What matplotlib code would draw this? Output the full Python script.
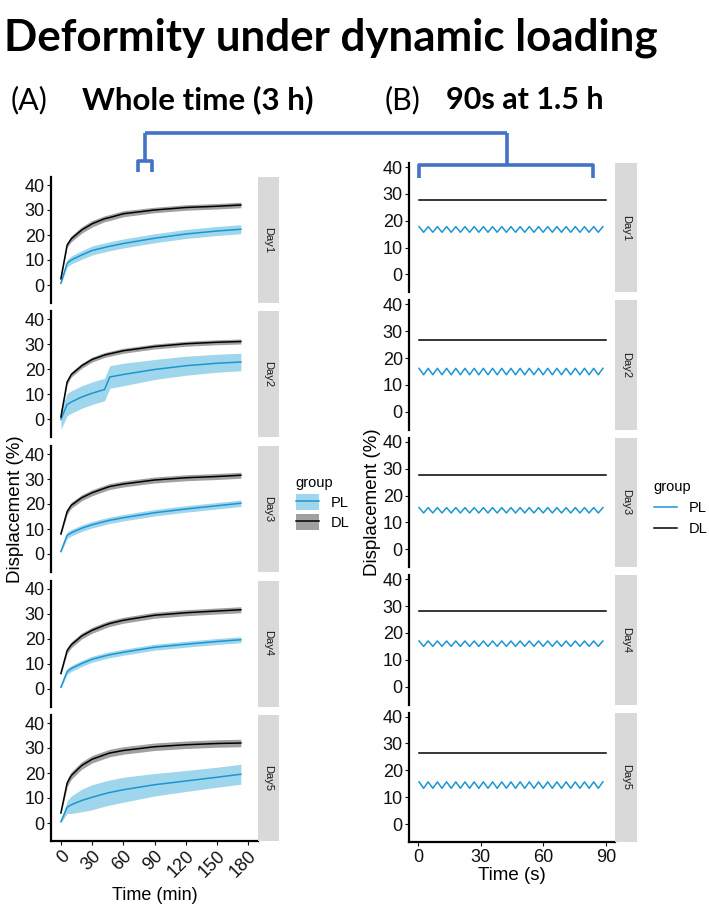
import numpy as np
import matplotlib.pyplot as plt
from matplotlib.lines import Line2D
from matplotlib.patches import Patch

plt.rcParams['font.family'] = ['Liberation Sans', 'DejaVu Sans']

# ------------- data -----------------

days = ["Day1", "Day2", "Day3", "Day4", "Day5"]

# (A) whole time, minutes
t_min = [0, 6, 10, 20, 30, 42, 47, 60, 90, 120, 150, 173]

dl_mean = [
    [2.5, 16, 18.5, 22, 24.5, 26.5, 27, 28.5, 30, 31, 31.5, 32],
    [1, 15, 18, 21.5, 24, 25.8, 26.3, 27.5, 29.2, 30.3, 30.9, 31.2],
    [8, 17, 19.5, 22.5, 24.5, 26.3, 27, 28, 29.6, 30.5, 31, 31.5],
    [6, 15.2, 17.5, 21, 23.3, 25.3, 26, 27.3, 29.3, 30.3, 31, 31.5],
    [4, 16, 19, 23, 25.5, 27.3, 28, 29, 30.5, 31.3, 31.8, 32],
]
dl_sd = [
    [0.5, 1, 1.2, 1.3, 1.3, 1.2, 1.2, 1.2, 1.1, 1.1, 1.1, 1.1],
    [0.5, 1, 1, 1, 1, 1, 1, 1, 1, 1, 1, 1],
    [0.5, 1.2, 1.2, 1.2, 1.2, 1.2, 1.2, 1.2, 1.2, 1.2, 1.2, 1.2],
    [0.5, 1.2, 1.2, 1.2, 1.2, 1.2, 1.2, 1.2, 1.2, 1.2, 1.2, 1.2],
    [0.5, 1.5, 1.5, 1.5, 1.5, 1.5, 1.5, 1.5, 1.5, 1.5, 1.5, 1.5],
]
pl_mean = [
    [0.7, 8.7, 10, 12, 13.8, 15, 15.5, 16.6, 18.7, 20.4, 21.6, 22.3],
    [0, 6, 7, 9, 10.5, 12, 17, 18, 20, 21.5, 22.5, 23],
    [1, 7.5, 8.5, 10.3, 11.7, 13, 13.5, 14.5, 16.5, 18, 19.3, 20.3],
    [0.5, 6.8, 8, 10, 11.7, 13, 13.5, 14.5, 16.5, 17.7, 18.8, 19.5],
    [0.5, 6.3, 7.3, 9, 10.3, 11.7, 12.2, 13.3, 15.3, 16.8, 18.3, 19.5],
]
pl_sd = [
    [0.5, 1.5, 1.6, 1.7, 1.8, 1.8, 1.8, 1.8, 1.8, 1.8, 1.8, 1.8],
    [4, 4.5, 4.5, 4.5, 4.5, 4.5, 4.5, 4.5, 4, 3.8, 3.6, 3.5],
    [0.5, 1.3, 1.3, 1.3, 1.3, 1.3, 1.3, 1.3, 1.3, 1.3, 1.3, 1.3],
    [0.5, 1.2, 1.2, 1.2, 1.2, 1.2, 1.2, 1.2, 1.2, 1.2, 1.2, 1.2],
    [0.5, 2.5, 3.5, 4.5, 5, 5, 5, 5, 4.5, 4.2, 4, 4],
]

# (B) 90 s window at 1.5 h
t_sec_dl = [0.5, 30, 60, 90]
dl_level = [27.7, 26.9, 27.5, 28.0, 26.5]
# PL oscillation: alternating peak / trough times (s)
t_sec_pl = [0.5, 2.7, 4.9, 7.1, 9.3, 11.5, 13.7, 15.9, 18.1, 20.3,
            22.5, 24.7, 26.9, 29.1, 31.3, 33.5, 35.7, 37.9, 40.1, 42.3,
            44.5, 46.7, 48.9, 51.1, 53.3, 55.5, 57.7, 59.9, 62.1, 64.3,
            66.5, 68.7, 70.9, 73.1, 75.3, 77.5, 79.7, 81.9, 84.1, 86.3, 88.5]
pl_peak = [17.8, 16.2, 15.5, 17.0, 15.7]
pl_trough = [15.7, 13.8, 13.5, 15.0, 13.3]

yticks = [0, 10, 20, 30, 40]

PL_LINE = "#1B96D2"
PL_FILL = "#9FD6EC"
DL_LINE = "#000000"
DL_FILL = "#A0A0A0"
STRIP = "#D9D9D9"
BRACKET = "#4472C4"

# ------------- layout helpers -----------------

W, H = 709, 906
fig = plt.figure(figsize=(W / 100, H / 100), dpi=100)


def px_axes(x, y, w, h):
    return fig.add_axes([x / W, 1 - (y + h) / H, w / W, h / H])


def style_panel(ax, ylim, bottom):
    ax.set_ylim(*ylim)
    ax.set_yticks(yticks)
    for s in ["top", "right"]:
        ax.spines[s].set_visible(False)
    ax.spines["left"].set_linewidth(1.6)
    ax.spines["bottom"].set_linewidth(1.6)
    ax.spines["bottom"].set_visible(bottom)
    ax.tick_params(axis="y", labelsize=13, length=3, width=0.8, pad=1.5, colors="#111111")
    ax.tick_params(axis="x", labelsize=13, length=3, width=0.8, pad=2, colors="#111111")
    if not bottom:
        ax.tick_params(axis="x", bottom=False, labelbottom=False)


def strip(x, y, w, h, label):
    s = px_axes(x, y, w, h)
    s.set_facecolor(STRIP)
    s.set_xticks([]); s.set_yticks([])
    for sp in s.spines.values():
        sp.set_visible(False)
    s.text(0.5, 0.5, label, rotation=-90, ha="center", va="center",
           fontsize=8, color="#1A1A1A", transform=s.transAxes)


# ------------- (A) whole time -----------------

a_left, a_w, a_strip = 51, 207, 21
a_top, a_h, a_step = 177, 126, 134.5
tt = np.array(t_min)
for i, day in enumerate(days):
    y0 = a_top + i * a_step
    ax = px_axes(a_left, y0, a_w, a_h)
    dm, ds = np.array(dl_mean[i]), np.array(dl_sd[i])
    pm, ps = np.array(pl_mean[i]), np.array(pl_sd[i])
    ax.fill_between(tt, pm - ps, pm + ps, color=PL_FILL, lw=0)
    ax.fill_between(tt, dm - ds, dm + ds, color=DL_FILL, lw=0)
    ax.plot(tt, pm, color=PL_LINE, lw=1.1)
    ax.plot(tt, dm, color=DL_LINE, lw=1.1)
    ax.set_xlim(-9.5, 189.5)
    ax.set_xticks([0, 30, 60, 90, 120, 150, 180])
    style_panel(ax, (-7.2, 43.2), bottom=(i == len(days) - 1))
    strip(a_left + a_w, y0, a_strip, a_h, day)
    if i == len(days) - 1:
        for lab in ax.get_xticklabels():
            lab.set_rotation(45)
            lab.set_ha("right")
            lab.set_va("top")
            lab.set_rotation_mode("anchor")
        ax.set_xlabel("Time (min)", fontsize=13, labelpad=4)

fig.text(16 / W, 1 - 509 / H, "Displacement (%)", rotation=90,
         ha="center", va="center", fontsize=13.5)

# ------------- (B) 90 s -----------------

b_left, b_w, b_strip = 409, 206, 22
b_top, b_h, b_step = 163, 129.4, 137.4
for i, day in enumerate(days):
    y0 = b_top + i * b_step
    ax = px_axes(b_left, y0, b_w, b_h)
    pl_vals = [pl_peak[i] if k % 2 == 0 else pl_trough[i] for k in range(len(t_sec_pl))]
    ax.plot(t_sec_pl, pl_vals, color=PL_LINE, lw=1.1)
    ax.plot(t_sec_dl, [dl_level[i]] * len(t_sec_dl), color=DL_LINE, lw=1.1)
    ax.set_xlim(-4.3, 94.3)
    ax.set_xticks([0, 30, 60, 90])
    style_panel(ax, (-6.7, 41.5), bottom=(i == len(days) - 1))
    strip(b_left + b_w, y0, b_strip, b_h, day)
    if i == len(days) - 1:
        ax.set_xlabel("Time (s)", fontsize=13.5, labelpad=1)

fig.text(373 / W, 1 - 502 / H, "Displacement (%)", rotation=90,
         ha="center", va="center", fontsize=13.5)

# ------------- legends -----------------

h_pl = (Patch(facecolor=PL_FILL, edgecolor="none"), Line2D([], [], color=PL_LINE, lw=1.1))
h_dl = (Patch(facecolor=DL_FILL, edgecolor="none"), Line2D([], [], color=DL_LINE, lw=1.1))
fig.legend([h_pl, h_dl], ["PL", "DL"], title="group", loc="upper left",
           bbox_to_anchor=(290 / W, 1 - 470 / H), frameon=False, fontsize=10.5,
           title_fontsize=10.5, handlelength=1.6, handleheight=1.3,
           alignment="left", labelspacing=0.3, borderaxespad=0)

fig.legend([Line2D([], [], color=PL_LINE, lw=1.1), Line2D([], [], color=DL_LINE, lw=1.1)],
           ["PL", "DL"], title="group", loc="upper left",
           bbox_to_anchor=(648 / W, 1 - 474 / H), frameon=False, fontsize=10.5,
           title_fontsize=10.5, handlelength=1.6, alignment="left",
           labelspacing=0.5, borderaxespad=0)

# ------------- titles and bracket -----------------

fig.text(4 / W, 1 - 50 / H, "Deformity under dynamic loading", fontsize=31.6,
         fontweight="bold", family=["Lato", "DejaVu Sans"], ha="left", va="baseline")
fig.text(11 / W, 1 - 109 / H, "(A)", fontsize=22, family=["Lato", "DejaVu Sans"],
         ha="left", va="baseline")
fig.text(82 / W, 1 - 109 / H, "Whole time (3 h)", fontsize=22.5,
         family=["Lato", "DejaVu Sans"], fontweight="bold", ha="left", va="baseline")
fig.text(385 / W, 1 - 109 / H, "(B)", fontsize=22, family=["Lato", "DejaVu Sans"],
         ha="left", va="baseline")
fig.text(446 / W, 1 - 109 / H, "90s at 1.5 h", fontsize=22,
         family=["Lato", "DejaVu Sans"], fontweight="bold", ha="left", va="baseline")

ov = fig.add_axes([0, 0, 1, 1], zorder=5)
ov.set_xlim(0, W); ov.set_ylim(H, 0)
ov.axis("off")
ov.patch.set_alpha(0)
bk = dict(color=BRACKET, lw=2.6, solid_capstyle="butt", solid_joinstyle="round")
ov.plot([145, 507], [133, 133], **bk)
ov.plot([145, 145], [133, 161], **bk)
ov.plot([138, 138, 152, 152], [172, 161, 161, 172], **bk)
ov.plot([507, 507], [133, 165], **bk)
ov.plot([419, 419, 593, 593], [178, 165, 165, 178], **bk)

fig.savefig("out.png", dpi=100)
